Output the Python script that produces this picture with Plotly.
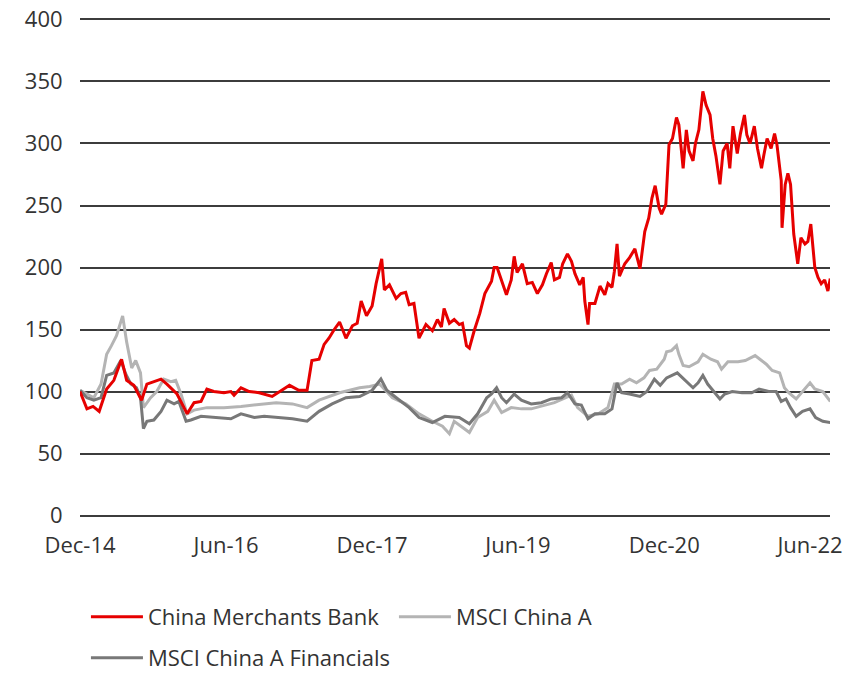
import plotly.graph_objects as go

# ---------------- data ----------------
cmb_dates = [
    "2014-12-01", "2014-12-27", "2015-01-19", "2015-02-11", "2015-03-11", "2015-04-07",
    "2015-05-06", "2015-05-25", "2015-06-21", "2015-07-20", "2015-08-09", "2015-09-04",
    "2015-10-01", "2015-10-23", "2015-11-19", "2015-11-30", "2015-12-19", "2016-01-07",
    "2016-02-02", "2016-02-28", "2016-03-21", "2016-04-16", "2016-05-24", "2016-06-19",
    "2016-07-01", "2016-07-27", "2016-08-27", "2016-10-03", "2016-11-21", "2016-12-18",
    "2017-01-25", "2017-03-01", "2017-04-01", "2017-04-19", "2017-05-16", "2017-06-04",
    "2017-06-22", "2017-07-12", "2017-08-01", "2017-08-25", "2017-09-18", "2017-10-06",
    "2017-10-21", "2017-11-10", "2017-12-01", "2017-12-16", "2018-01-06", "2018-01-16",
    "2018-02-04", "2018-03-01", "2018-03-19", "2018-04-06", "2018-04-19", "2018-05-07",
    "2018-05-26", "2018-06-21", "2018-07-15", "2018-08-03", "2018-08-18", "2018-08-28",
    "2018-09-17", "2018-10-05", "2018-10-24", "2018-11-05", "2018-11-20", "2018-12-01",
    "2018-12-19", "2019-01-09", "2019-01-28", "2019-02-22", "2019-03-04", "2019-03-15",
    "2019-04-01", "2019-04-19", "2019-05-07", "2019-05-18", "2019-05-29", "2019-06-18",
    "2019-07-06", "2019-07-25", "2019-08-13", "2019-09-01", "2019-09-16", "2019-10-04",
    "2019-10-16", "2019-11-04", "2019-11-16", "2019-12-04", "2019-12-19", "2020-01-01",
    "2020-01-19", "2020-02-01", "2020-02-07", "2020-02-19", "2020-02-25", "2020-03-16",
    "2020-04-04", "2020-04-22", "2020-05-04", "2020-05-19", "2020-05-28", "2020-06-07",
    "2020-06-16", "2020-07-06", "2020-07-24", "2020-08-13", "2020-09-01", "2020-09-19",
    "2020-10-04", "2020-10-16", "2020-10-28", "2020-11-12", "2020-11-21", "2020-12-07",
    "2020-12-19", "2021-01-01", "2021-01-16", "2021-01-25", "2021-02-10", "2021-02-22",
    "2021-03-04", "2021-03-19", "2021-03-28", "2021-04-10", "2021-04-25", "2021-05-07",
    "2021-05-22", "2021-06-01", "2021-06-13", "2021-06-28", "2021-07-10", "2021-07-25",
    "2021-08-04", "2021-08-16", "2021-09-01", "2021-09-13", "2021-09-28", "2021-10-07",
    "2021-10-19", "2021-11-04", "2021-11-16", "2021-12-01", "2021-12-10", "2021-12-22",
    "2022-01-06", "2022-01-19", "2022-01-28", "2022-02-13", "2022-02-16", "2022-02-28",
    "2022-03-10", "2022-03-20", "2022-04-01", "2022-04-16", "2022-04-28", "2022-05-13",
    "2022-05-24", "2022-06-04", "2022-06-19", "2022-07-01", "2022-07-13", "2022-07-26",
    "2022-08-07", "2022-08-16",
]
cmb_values = [
    100, 86, 88, 84, 102, 109,
    126, 109, 105, 93, 106, 108,
    110, 106, 100, 98, 90, 82,
    91, 92, 102, 100, 99, 100,
    97, 103, 100, 99, 96, 100,
    105, 101, 101, 125, 126, 138,
    143, 150, 156, 143, 153, 155,
    173, 161, 169, 187, 207, 182,
    186, 175, 179, 180, 170, 171,
    143, 154, 149, 158, 152, 167,
    155, 158, 154, 155, 137, 135,
    149, 163, 179, 189, 200, 200,
    189, 178, 190, 209, 196, 203,
    187, 188, 179, 186, 195, 204,
    190, 192, 203, 211, 205, 195,
    186, 192, 173, 154, 171, 171,
    185, 178, 187, 184, 197, 219,
    193, 203, 208, 215, 199, 229,
    240, 256, 266, 248, 243, 251,
    299, 304, 321, 315, 280, 311,
    294, 286, 300, 311, 342, 331,
    323, 304, 290, 267, 294, 300,
    280, 314, 292, 308, 323, 307,
    300, 314, 296, 280, 291, 304,
    296, 308, 299, 270, 232, 267,
    276, 267, 227, 203, 224, 219,
    221, 235, 200, 192, 187, 190,
    181, 191,
]

msci_dates = [
    "2014-12-01", "2014-12-27", "2015-01-22", "2015-02-18", "2015-03-11", "2015-03-29",
    "2015-04-17", "2015-05-10", "2015-05-25", "2015-06-13", "2015-06-28", "2015-07-16",
    "2015-07-27", "2015-08-23", "2015-09-15", "2015-10-11", "2015-11-07", "2015-11-25",
    "2015-12-15", "2016-01-07", "2016-02-02", "2016-03-21", "2016-05-24", "2016-07-27",
    "2016-10-22", "2016-12-06", "2017-02-05", "2017-04-01", "2017-05-16", "2017-08-01",
    "2017-10-15", "2017-11-22", "2017-12-29", "2018-02-15", "2018-04-06", "2018-05-26",
    "2018-07-15", "2018-08-22", "2018-09-17", "2018-10-05", "2018-11-12", "2018-12-01",
    "2019-01-01", "2019-02-08", "2019-03-04", "2019-04-01", "2019-05-07", "2019-06-14",
    "2019-07-21", "2019-09-08", "2019-10-16", "2019-12-19", "2020-01-11", "2020-02-19",
    "2020-03-29", "2020-05-04", "2020-05-28", "2020-06-24", "2020-07-24", "2020-08-19",
    "2020-09-16", "2020-10-07", "2020-11-03", "2020-12-01", "2020-12-10", "2020-12-28",
    "2021-01-16", "2021-01-25", "2021-02-10", "2021-03-04", "2021-04-07", "2021-04-25",
    "2021-05-25", "2021-06-19", "2021-07-04", "2021-07-28", "2021-09-04", "2021-10-01",
    "2021-11-07", "2021-11-25", "2021-12-19", "2022-01-10", "2022-02-07", "2022-02-25",
    "2022-03-13", "2022-04-10", "2022-05-04", "2022-06-01", "2022-06-19", "2022-07-19",
    "2022-08-16",
]
msci_values = [
    101, 98, 95, 106, 130, 137,
    145, 161, 140, 119, 125, 115,
    87, 95, 100, 110, 108, 109,
    98, 82, 85, 87, 87, 88,
    90, 91, 90, 87, 93, 99,
    103, 104, 106, 95, 90, 82,
    76, 72, 66, 76, 70, 67,
    79, 84, 93, 83, 87, 86,
    86, 89, 91, 97, 87, 80,
    82, 87, 106, 106, 110, 107,
    111, 117, 118, 126, 132, 133,
    137, 130, 121, 120, 124, 130,
    126, 124, 118, 124, 124, 125,
    129, 126, 122, 117, 115, 103,
    99, 94, 100, 107, 102, 100,
    92,
]

fin_dates = [
    "2014-12-01", "2014-12-27", "2015-01-22", "2015-02-18", "2015-03-11", "2015-04-07",
    "2015-05-03", "2015-05-22", "2015-06-10", "2015-07-01", "2015-07-16", "2015-07-27",
    "2015-08-09", "2015-09-04", "2015-10-01", "2015-10-23", "2015-11-19", "2015-12-07",
    "2016-01-03", "2016-01-21", "2016-02-28", "2016-04-16", "2016-06-19", "2016-07-27",
    "2016-09-15", "2016-10-22", "2016-12-06", "2017-02-05", "2017-04-01", "2017-05-16",
    "2017-07-04", "2017-08-25", "2017-10-15", "2017-12-01", "2018-01-03", "2018-01-25",
    "2018-03-14", "2018-04-19", "2018-05-26", "2018-07-15", "2018-08-31", "2018-10-24",
    "2018-12-01", "2019-01-01", "2019-02-04", "2019-02-22", "2019-03-13", "2019-04-01",
    "2019-04-19", "2019-05-18", "2019-06-14", "2019-07-21", "2019-08-28", "2019-10-04",
    "2019-11-12", "2019-12-04", "2020-01-01", "2020-01-25", "2020-02-19", "2020-03-16",
    "2020-04-22", "2020-05-19", "2020-06-07", "2020-06-24", "2020-07-24", "2020-09-01",
    "2020-09-27", "2020-10-25", "2020-11-16", "2020-12-10", "2021-01-19", "2021-02-13",
    "2021-03-19", "2021-04-07", "2021-04-25", "2021-05-13", "2021-06-10", "2021-06-28",
    "2021-07-16", "2021-08-13", "2021-09-19", "2021-10-25", "2021-11-22", "2021-12-28",
    "2022-01-25", "2022-02-13", "2022-03-03", "2022-03-20", "2022-04-10", "2022-05-04",
    "2022-06-01", "2022-06-22", "2022-07-19", "2022-08-16",
]
fin_values = [
    101, 95, 93, 95, 113, 115,
    125, 114, 106, 103, 95, 70,
    76, 77, 84, 93, 90, 92,
    76, 77, 80, 79, 78, 82,
    79, 80, 79, 78, 76, 84,
    90, 95, 96, 101, 110, 101,
    93, 87, 79, 75, 80, 79,
    74, 82, 95, 98, 103, 95,
    91, 98, 93, 90, 91, 94,
    95, 99, 90, 89, 78, 82,
    82, 86, 107, 99, 98, 96,
    100, 110, 105, 111, 115, 110,
    103, 107, 113, 106, 99, 94,
    98, 100, 99, 99, 102, 100,
    100, 92, 94, 87, 80, 84,
    86, 79, 76, 75,
]

series_names = ["China Merchants Bank", "MSCI China A", "MSCI China A Financials"]
series_colors = ["#e60000", "#b4b4b4", "#787878"]

x_tick_vals = ["2014-12-01", "2016-06-01", "2017-12-01", "2019-06-01", "2020-12-01", "2022-06-01"]
x_tick_text = ["Dec-14", "Jun-16", "Dec-17", "Jun-19", "Dec-20", "Jun-22"]
y_tick_vals = [0, 50, 100, 150, 200, 250, 300, 350, 400]

# ---------------- figure ----------------
FONT = "Open Sans"
FS = 22
TEXT_COLOR = "#333333"

fig = go.Figure()
fig.add_trace(go.Scatter(x=msci_dates, y=msci_values, mode="lines", name=series_names[1],
                         line=dict(color=series_colors[1], width=3), legend="legend", legendrank=2))
fig.add_trace(go.Scatter(x=fin_dates, y=fin_values, mode="lines", name=series_names[2],
                         line=dict(color=series_colors[2], width=3), legend="legend2", legendrank=3))
fig.add_trace(go.Scatter(x=cmb_dates, y=cmb_values, mode="lines", name=series_names[0],
                         line=dict(color=series_colors[0], width=3), legend="legend", legendrank=1))

fig.update_layout(
    width=856, height=673,
    margin=dict(l=80, r=26, t=17, b=155, autoexpand=False),
    plot_bgcolor="white", paper_bgcolor="white",
    font=dict(family=FONT, size=FS, color=TEXT_COLOR),
    showlegend=True,
    legend=dict(orientation="h", xref="container", yref="container",
                x=0.1004, y=0.0832, xanchor="left", yanchor="middle",
                entrywidth=241, entrywidthmode="pixels", itemwidth=52,
                font=dict(family=FONT, size=FS, color=TEXT_COLOR),
                bgcolor="rgba(0,0,0,0)", traceorder="normal"),
    legend2=dict(orientation="h", xref="container", yref="container",
                 x=0.1004, y=0.0223, xanchor="left", yanchor="middle", itemwidth=52,
                 font=dict(family=FONT, size=FS, color=TEXT_COLOR),
                 bgcolor="rgba(0,0,0,0)"),
)

fig.update_xaxes(
    type="date", automargin=False,
    range=["2014-12-01", "2022-08-15"],
    tickmode="array", tickvals=x_tick_vals, ticktext=x_tick_text,
    showgrid=False, zeroline=False, showline=False,
    ticks="outside", ticklen=8, tickcolor="rgba(0,0,0,0)",
    ticklabeloverflow="allow",
    tickfont=dict(family=FONT, size=FS, color=TEXT_COLOR),
)
fig.update_yaxes(
    automargin=False,
    range=[-2, 402],
    tickmode="array", tickvals=y_tick_vals,
    showgrid=True, gridcolor="#3c3c3c", gridwidth=1.5,
    zeroline=False, showline=False,
    ticks="outside", ticklen=12, tickcolor="rgba(0,0,0,0)",
    ticklabeloverflow="allow",
    tickfont=dict(family=FONT, size=FS, color=TEXT_COLOR),
)

# remove the default page margin so the figure sits at the window's top-left corner
fig.write_html("out.html", config={"displayModeBar": False},
               post_script="document.body.style.margin='0';")
